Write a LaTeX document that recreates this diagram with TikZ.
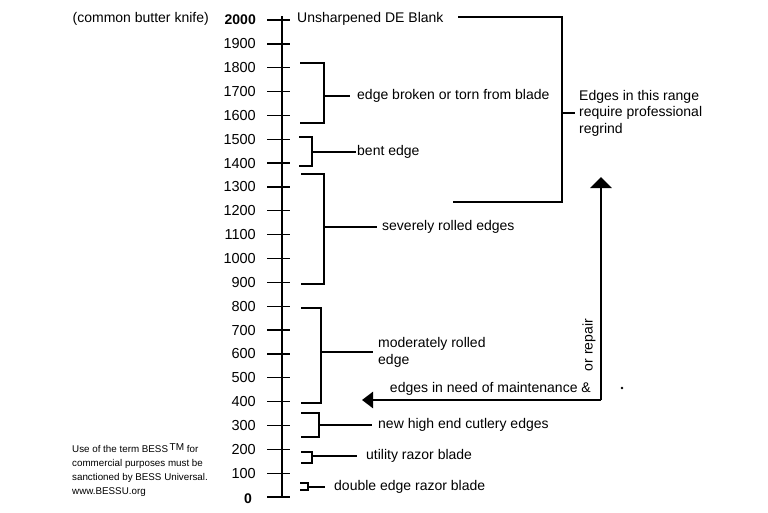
\documentclass[tikz,border=0pt]{standalone}
\usepackage{fontspec}
\setmainfont{Liberation Sans}
\usetikzlibrary{arrows.meta}
\tikzset{
  lbl/.style={inner sep=0pt,anchor=west,font=\fontsize{14}{17}\selectfont},
  num/.style={inner sep=0pt,anchor=east,font=\fontsize{14.5}{16}\selectfont},
  bignum/.style={num,font=\bfseries\fontsize{14}{16}\selectfont},
  note/.style={inner sep=0pt,anchor=west,align=left,font=\fontsize{9.8}{14}\selectfont},
  brk/.style={line width=2.6pt},
  tick/.style={line width=1.3pt},
}
\begin{document}
\begin{tikzpicture}[x=1pt,y=-1pt,line join=miter]
\useasboundingbox (0,0) rectangle (768,512);
% scale with ticks
\draw[line width=2.4pt] (282,16) -- (282,498);
\foreach \v in {0,100,...,2000}{
  \pgfmathsetmacro\yy{497-0.2385*\v}
  \draw[tick] (267,\yy) -- (290,\yy);
}
\foreach \v in {100,200,...,1900}
  \node[num] (n\v) at (256,{497-0.2385*\v}) {\v};
\node[bignum] (n2000) at (256,20) {2000};
\node[bignum] (n0) at (252,499) {0};
\node[lbl,anchor=east] (butter) at (209,19) {(common butter knife)};
\node[lbl] (blank) at (297,19) {Unsharpened DE Blank};

% labels
\node[lbl,inner xsep=7pt] (broken) at (350,96) {edge broken or torn from blade};
\node[lbl,inner xsep=1pt] (bent) at (356,152) {bent edge};
\node[lbl,inner xsep=5pt] (severe) at (377,227) {severely rolled edges};
\node[lbl,inner xsep=5pt,align=left] (moderate) at (373,352) {moderately rolled\\edge};
\node[lbl,inner xsep=6pt] (cutlery) at (372,425) {new high end cutlery edges};
\node[lbl,inner xsep=9pt] (utility) at (357,456) {utility razor blade};
\node[lbl,inner xsep=9pt] (double) at (325,487) {double edge razor blade};
\node[lbl,inner xsep=4pt,align=left,font=\fontsize{14}{16.5}\selectfont] (regrind) at (575,113)
  {Edges in this range\\require professional\\regrind};

% brackets
\draw[brk] (300,63) -| (324,123) -- (300,123);
\draw[brk] (324,96) -- (broken.west);
\draw[brk] (299,137) -| (312,166) -- (299,166);
\draw[brk] (312,152) -- (bent.west);
\draw[brk] (301,174) -| (324,284) -- (301,284);
\draw[brk] (324,227) -- (severe.west);
\draw[brk] (301,308) -| (321,403) -- (301,403);
\draw[brk] (321,352) -- (moderate.west);
\draw[brk] (301,413) -| (319,437) -- (301,437);
\draw[brk] (319,425) -- (cutlery.west);
\draw[brk] (301,452) -| (312,463) -- (301,463);
\draw[brk] (312,456) -- (utility.west);
\draw[brk] (300,483) -| (308,490) -- (300,490);
\draw[brk] (308,487) -- (double.west);
\draw[brk] (458,17) -| (562,202) -- (453,202);
\draw[brk] (562,113) -- (regrind.west);

% maintenance arrow
\coordinate (corner) at (601,400);
\coordinate (uptip) at (601,177);
\coordinate (lefttip) at (362,400);
\draw[brk,-{Triangle[length=11pt,width=21pt]}] (corner) -- (uptip);
\draw[brk,-{Triangle[length=11pt,width=16pt]}] (corner) -- (lefttip);
\node[lbl,anchor=east] (maint) at (591,389) {edges in need of maintenance \&};
\node[lbl,anchor=center,rotate=90] (repair) at (589,345) {or repair};
\fill (622,388) circle (1.3);

% note
\node[note] (use) at (72,470) {Use of the term BESS\,\raisebox{0.5ex}{\fontsize{10}{10}\selectfont TM} for\\
commercial purposes must be\\sanctioned by BESS Universal.\\www.BESSU.org};
\end{tikzpicture}
\end{document}
